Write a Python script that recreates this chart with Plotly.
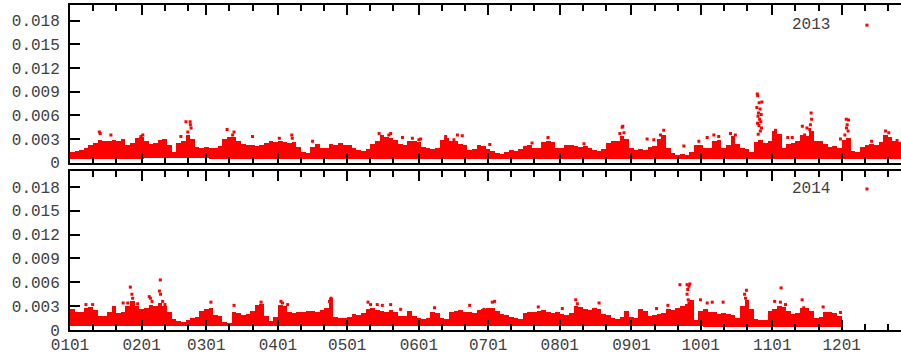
import plotly.graph_objects as go

# ---------------- data ----------------
month_labels = ["0101", "0201", "0301", "0401", "0501", "0601",
                "0701", "0801", "0901", "1001", "1101", "1201"]
month_start_day = [0, 31, 59, 90, 120, 151, 181, 212, 243, 273, 304, 334]
minor_day = [10, 20, 41, 51, 69, 79, 100, 110, 130, 140, 161, 171, 191, 201,
             222, 232, 253, 263, 283, 293, 314, 324, 344, 354]

# band top, per 2-day block (units of 1e-4)
hi_2013 = [14, 15, 16, 18, 22, 25, 29, 27, 28, 29, 28, 30, 22, 25, 31, 32, 28, 24, 25, 29,
           30, 22, 13, 25, 28, 35, 30, 20, 19, 20, 18, 19, 21, 30, 33, 33, 28, 24, 23, 22,
           21, 23, 25, 27, 26, 28, 26, 25, 26, 20, 14, 12, 20, 24, 18, 19, 24, 23, 25, 23,
           22, 19, 16, 15, 17, 24, 28, 35, 32, 31, 29, 24, 23, 27, 28, 26, 20, 18, 17, 19,
           29, 31, 28, 27, 24, 23, 16, 17, 22, 21, 17, 15, 12, 11, 13, 16, 15, 17, 21, 23,
           19, 18, 26, 28, 26, 18, 19, 22, 23, 21, 20, 21, 19, 16, 15, 17, 25, 27, 28, 34,
           30, 18, 16, 17, 16, 20, 21, 30, 35, 18, 12, 10, 11, 10, 14, 23, 22, 18, 19, 28,
           29, 18, 22, 34, 24, 18, 17, 14, 26, 29, 25, 28, 40, 36, 18, 24, 25, 28, 35, 34,
           40, 28, 27, 24, 20, 21, 19, 29, 31, 15, 14, 20, 23, 24, 22, 26, 35, 33, 27, 26]
hi_2014 = [26, 22, 23, 28, 29, 25, 18, 17, 22, 30, 21, 22, 30, 36, 30, 26, 28, 31, 30, 34,
           30, 22, 14, 11, 10, 12, 15, 16, 24, 26, 27, 19, 17, 10, 9, 22, 21, 19, 20, 24,
           31, 33, 18, 11, 16, 32, 30, 22, 21, 22, 23, 24, 24, 23, 25, 27, 40, 16, 15, 15,
           16, 20, 19, 21, 26, 27, 25, 24, 23, 25, 23, 18, 18, 24, 17, 15, 14, 15, 22, 21,
           15, 14, 22, 24, 25, 22, 23, 21, 25, 26, 27, 28, 24, 20, 19, 16, 15, 14, 21, 22,
           23, 24, 25, 22, 21, 22, 20, 19, 21, 30, 29, 26, 25, 27, 26, 20, 19, 15, 14, 16,
           24, 16, 15, 26, 24, 18, 19, 20, 21, 26, 25, 28, 30, 33, 38, 13, 24, 26, 22, 23,
           20, 21, 20, 19, 15, 30, 38, 26, 14, 13, 12, 24, 26, 30, 29, 24, 20, 21, 28, 27,
           24, 15, 16, 22, 23, 21, 18]
# band bottom per month (units of 1e-4)
lo_2013 = [5, 6, 5, 5, 5, 5, 4, 5, 5, 4, 4, 4]
lo_2014 = [5, 5, 5, 5, 5, 5, 5, 5, 5, 4, 4, 5]

# isolated high points (day of year, value in 1e-4)
out13_day = [12.7, 13.1, 17.7, 30.7, 31.5, 48.0, 50.2, 51.0, 52.0, 52.1, 52.4, 68.0, 70.4,
             71.0, 79.0, 90.6, 96.0, 96.2, 105.0, 133.8, 138.0, 138.8, 143.9, 148.2, 151.0,
             151.8, 162.6, 166.2, 167.7, 169.8, 181.7, 200.0, 206.9, 222.5, 238.0, 239.0,
             239.3, 239.8, 249.8, 252.7, 255.6, 257.0, 265.7, 272.2, 275.8, 278.7, 280.8,
             285.9, 288.0, 297.3, 297.5, 297.6, 297.7, 297.8, 297.9, 298.0, 298.2, 298.3,
             298.5, 298.7, 298.8, 299.0, 299.2, 299.3, 299.5, 304.7, 305.4, 310.7, 312.6,
             317.0, 318.0, 319.0, 320.2, 320.5, 320.8, 321.0, 333.5, 335.4, 336.0, 336.1,
             336.4, 336.8, 337.0, 347.0, 353.0, 354.4, 358.0]
out13_val = [39, 37, 35, 33, 35, 33, 52, 39, 52, 48, 44, 42, 35,
             39, 33, 31, 35, 31, 27, 37, 35, 37, 32, 31, 29,
             30, 33, 29, 35, 34, 23, 25, 32, 24, 37, 45,
             46, 38, 30, 29, 35, 41, 21, 27, 32, 35, 33,
             37, 35, 70, 87, 50, 85, 59, 36, 63, 47, 76,
             55, 68, 40, 52, 61, 44, 77, 38, 41, 32, 32,
             46, 35, 44, 42, 48, 63, 55, 30, 35, 55, 44,
             48, 40, 54, 27, 40, 38, 28]
out14_day = [6.9, 9.8, 23.0, 25.0, 26.1, 26.8, 27.1, 29.3, 34.3, 34.8, 35.5, 38.7, 39.1,
             39.2, 40.1, 41.1, 61.0, 71.0, 82.7, 91.3, 92.0, 94.2, 112.3, 113.0, 129.0,
             130.1, 133.0, 135.2, 138.8, 143.1, 157.8, 173.0, 179.2, 182.8, 183.8, 202.7,
             213.1, 218.9, 219.6, 229.0, 253.9, 258.8, 264.0, 267.1, 267.1, 267.4, 267.6,
             267.9, 267.9, 268.3, 272.9, 275.8, 278.0, 282.7, 292.0, 292.4, 292.8, 305.0,
             307.5, 307.8, 309.7, 316.9, 317.6, 326.0, 333.5]
out14_val = [32, 32, 34, 34, 54, 45, 40, 33, 42, 40, 36, 49, 63,
             45, 36, 32, 35, 31, 35, 36, 34, 32, 36, 40, 35,
             32, 32, 31, 32, 26, 28, 31, 26, 35, 36, 29,
             27, 38, 33, 34, 27, 31, 57, 57, 45, 51, 38,
             55, 34, 58, 38, 34, 35, 35, 45, 40, 50, 36,
             35, 53, 32, 38, 28, 29, 22]

UNIT = 1e-4
RED = "#ff0000"
FONT = dict(family="Liberation Mono, Courier New, monospace", size=16, color="#404040")


def month_of(day):
    m = 0
    for i, s in enumerate(month_start_day):
        if day >= s:
            m = i
    return m


def band(hi, lo, xa, ya):
    xs, base, h = [], [], []
    for k, v in enumerate(hi):
        d = 2 * k
        b = lo[month_of(d)] * UNIT
        xs.append(d + 1)
        base.append(b)
        h.append(v * UNIT - b)
    return go.Bar(x=xs, y=h, base=base, width=2, marker=dict(color=RED, line=dict(width=0)),
                  xaxis=xa, yaxis=ya, showlegend=False, hoverinfo="skip")


def dots(days, vals, xa, ya):
    return go.Scatter(x=days, y=[v * UNIT for v in vals], mode="markers",
                      marker=dict(symbol="square", size=3, color=RED, line=dict(width=0)),
                      xaxis=xa, yaxis=ya, showlegend=False, hoverinfo="skip")


fig = go.Figure()
fig.add_trace(band(hi_2013, lo_2013, "x", "y"))
fig.add_trace(dots(out13_day, out13_val, "x", "y"))
fig.add_trace(band(hi_2014, lo_2014, "x2", "y2"))
fig.add_trace(dots(out14_day, out14_val, "x2", "y2"))

yticks = [0, 0.003, 0.006, 0.009, 0.012, 0.015, 0.018]
ytext = ["0", "0.003", "0.006", "0.009", "0.012", "0.015", "0.018"]

xcommon = dict(range=[0, 359.7], showline=True, linecolor="black", linewidth=2,
               mirror="allticks", ticks="inside", ticklen=10, tickwidth=2, tickcolor="black",
               tickmode="array", tickvals=month_start_day, ticktext=month_labels,
               showgrid=False, zeroline=False, tickfont=FONT, ticklabelstandoff=-1,
               automargin=False,
               minor=dict(tickmode="array", tickvals=minor_day, ticks="inside", ticklen=6,
                          tickwidth=1.5, tickcolor="black", showgrid=False))
ycommon = dict(range=[0, 0.02], showline=True, linecolor="black", linewidth=2, mirror=False,
               ticks="inside", ticklen=10, tickwidth=2, tickcolor="black",
               tickmode="array", tickvals=yticks, ticktext=ytext, ticklabelstandoff=5,
               automargin=False, showgrid=False, zeroline=False, tickfont=FONT)

top_dom = [0.515, 1.0]
bot_dom = [0.0, 0.489]

fig.update_layout(
    width=901, height=355,
    margin=dict(l=70, r=0, t=5, b=25),
    paper_bgcolor="white", plot_bgcolor="white",
    barmode="overlay", bargap=0,
    xaxis=dict(xcommon, domain=[0, 1], anchor="y", showticklabels=False),
    yaxis=dict(ycommon, domain=top_dom, anchor="x"),
    xaxis2=dict(xcommon, domain=[0, 1], anchor="y2", showticklabels=True),
    yaxis2=dict(ycommon, domain=bot_dom, anchor="x2"),
    showlegend=False,
)

# gnuplot-style keys: label then sample point
for label, ycen in (("2013", 0.938), ("2014", 0.434)):
    fig.add_annotation(text=label, xref="paper", yref="paper", x=0.917, y=ycen,
                       xanchor="right", yanchor="middle", showarrow=False, font=FONT)
    fig.add_shape(type="rect", xref="paper", yref="paper",
                  x0=0.959 - 0.0018, x1=0.959 + 0.0018, y0=ycen - 0.0046, y1=ycen + 0.0046,
                  fillcolor=RED, line=dict(width=0))

fig.write_html("out.html", config={"displayModeBar": False},
               post_script="document.body.style.margin='0';document.body.style.overflow='hidden';")
